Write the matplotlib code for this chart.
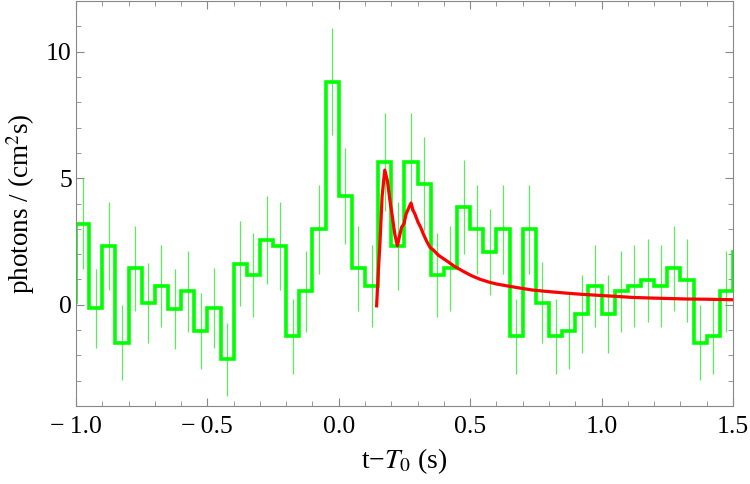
import numpy as np
import matplotlib.pyplot as plt
from matplotlib.ticker import MultipleLocator

# Binned light curve, 0.05 s bins (one extra bin on each side, clipped by the axes)
edges = np.round(np.arange(-1.05, 1.5501, 0.05), 2)
counts = [0.10,
          3.21, -0.13, 2.32, -1.49, 1.44, 0.08, 0.75, -0.16, 0.53, -1.04,
          -0.13, -2.16, 1.63, 1.19, 2.56, 2.32, -1.25, 0.53, 2.98, 8.81,
          4.30, 1.44, 0.75, 5.65, 2.32, 5.65, 4.78, 1.19, 1.44, 3.86,
          2.98, 2.08, 2.98, -1.25, 2.98, 0.09, -1.25, -1.04, -0.37, 0.75,
          -0.37, 0.53, 0.75, 0.97, 0.75, 1.44, 0.97, -1.49, -1.25, 0.53,
          2.10]
errors = [1.55,
          1.78, 1.56, 1.75, 1.47, 1.67, 1.59, 1.63, 1.57, 1.60, 1.50,
          1.57, 1.44, 1.68, 1.66, 1.75, 1.73, 1.48, 1.60, 1.77, 2.12,
          1.88, 1.67, 1.62, 1.93, 1.73, 1.93, 1.86, 1.66, 1.67, 1.84,
          1.77, 1.71, 1.77, 1.48, 1.77, 1.59, 1.48, 1.50, 1.55, 1.62,
          1.55, 1.60, 1.62, 1.63, 1.62, 1.67, 1.63, 1.47, 1.48, 1.60,
          1.72]

# Model curve
model_t = [0.144, 0.150, 0.157, 0.165, 0.175, 0.185, 0.195, 0.205, 0.213,
           0.223, 0.231, 0.239, 0.248, 0.256, 0.265, 0.275, 0.282, 0.290,
           0.302, 0.312, 0.322, 0.335, 0.347, 0.360, 0.380, 0.410, 0.440,
           0.474, 0.505, 0.537, 0.570, 0.601, 0.650, 0.690, 0.739, 0.800,
           0.867, 0.930, 0.994, 1.060, 1.120, 1.180, 1.248, 1.320, 1.400,
           1.500]
model_y = [-0.04, 1.20, 2.50, 4.30, 5.32, 4.90, 4.10, 3.40, 2.80,
           2.33, 2.70, 3.06, 3.20, 3.58, 3.80, 4.02, 3.75, 3.58,
           3.25, 3.05, 2.79, 2.50, 2.27, 2.16, 1.95, 1.74, 1.52,
           1.32, 1.15, 1.01, 0.90, 0.82, 0.73, 0.66, 0.58, 0.52,
           0.46, 0.41, 0.37, 0.33, 0.29, 0.27, 0.25, 0.23, 0.22,
           0.20]

plt.rcParams['font.family'] = ['Liberation Serif', 'DejaVu Serif']
plt.rcParams['mathtext.fontset'] = 'stix'

fig = plt.figure(figsize=(7.5, 4.84), dpi=100)
ax = fig.add_axes([0.1013, 0.161, 0.876, 0.837])

centers = (edges[:-1] + edges[1:]) / 2
ax.errorbar(centers, counts, yerr=errors, fmt='none', ecolor='#5ced5c',
            elinewidth=0.9, capsize=0, zorder=1)
ax.stairs(counts, edges, baseline=None, color='#00ff00', lw=2.6, zorder=2)
ax.plot(model_t, model_y, color='#ff0000', lw=2.3, zorder=3)

ax.set_xlim(-1.0, 1.5)
ax.set_ylim(-4, 12)
ax.xaxis.set_major_locator(MultipleLocator(0.5))
ax.xaxis.set_minor_locator(MultipleLocator(0.1))
ax.yaxis.set_major_locator(MultipleLocator(5))
ax.yaxis.set_minor_locator(MultipleLocator(1))
ax.tick_params(which='both', direction='in', top=True, right=True,
               color='#888888', labelsize=18.5)
ax.tick_params(which='major', length=6)
ax.tick_params(which='minor', length=3.5)
ax.tick_params(axis='x', pad=7)
ax.tick_params(axis='y', pad=3)
ax.xaxis.set_major_formatter(plt.FuncFormatter(
    lambda v, p: ('\u2212\u20091.0' if v < -0.99 else '\u2212\u20090.5'
                  if v < -0.49 else '%.1f' % v)))
for s in ax.spines.values():
    s.set_color('#888888')

ax.set_xlabel('t\u2212$T_0$ (s)', fontsize=20, va='top')
ax.xaxis.set_label_coords(0.5, -0.1)
ax.set_ylabel('photons / (cm$^2$s)', fontsize=19.5, va='center')
ax.yaxis.set_label_coords(-0.085, 0.5)

fig.savefig('out.png')
